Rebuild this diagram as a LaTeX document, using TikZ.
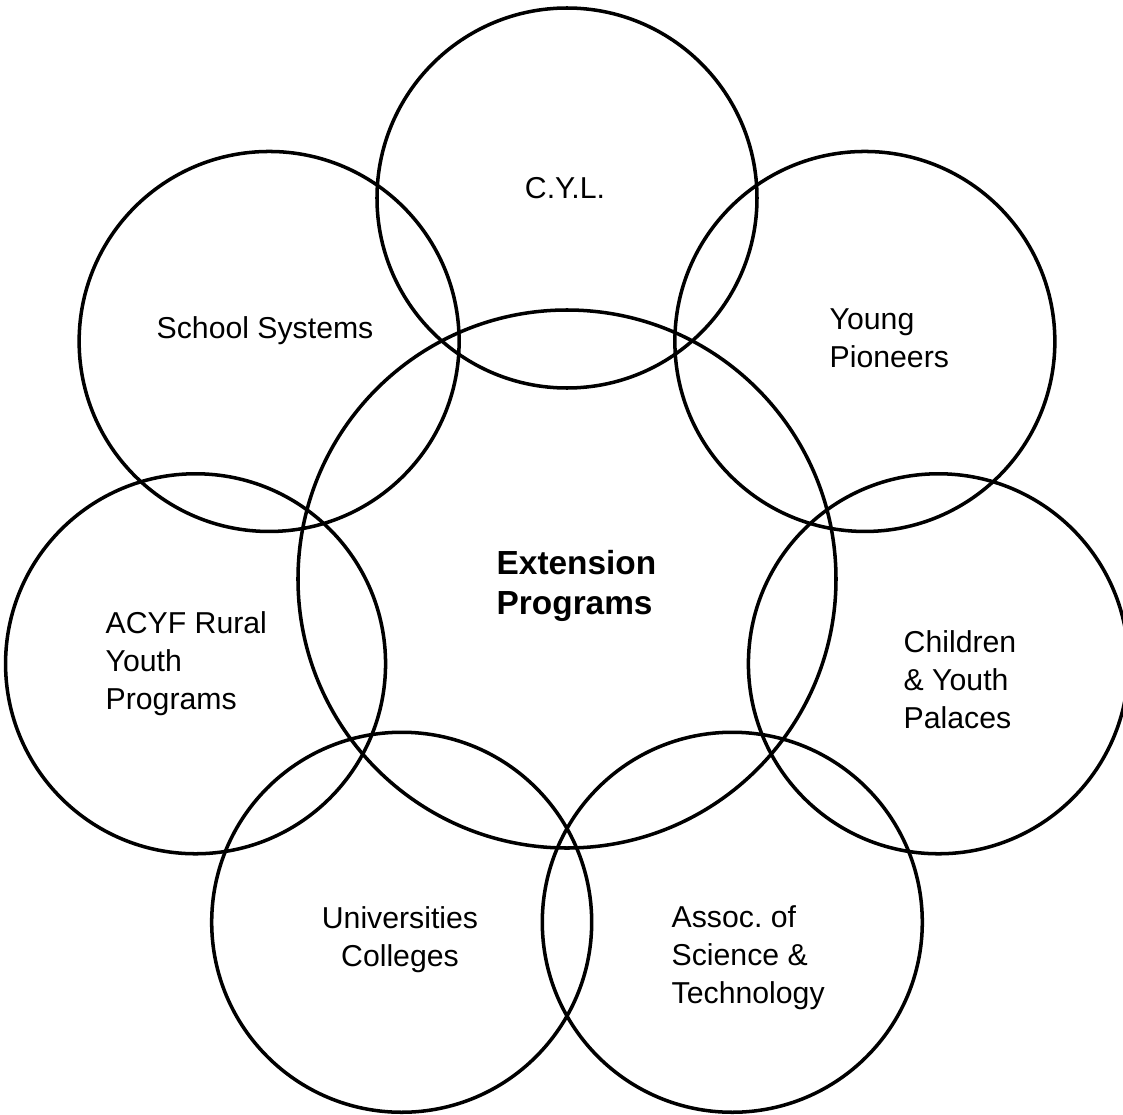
\documentclass[tikz,border=0pt]{standalone}
\usepackage{fontspec}
\setmainfont{Liberation Sans}
\usetikzlibrary{positioning}
\frenchspacing

\begin{document}
\begin{tikzpicture}[ring/.style={draw,circle,line width=1pt,inner sep=0pt,minimum size=3.8cm},
        hub/.style={draw,circle,line width=1pt,inner sep=0pt,minimum size=5.38cm},
        lbl/.style={align=left,anchor=west,inner sep=0pt,font=\fontsize{8.6}{10.8}\selectfont}]
    \useasboundingbox (-5.67,-5.35) rectangle (5.56,5.79);

    % the middle circle and the seven round it
    \node[hub] (ext) at (0,0) {};
    \foreach \name [count=\i from 0] in {cyl,school,acyf,univ,assoc,palace,pioneer}
        \node[ring] (\name) at ({90+\i*360/7}:3.81) {};

    % texts
    \node[lbl,font=\fontsize{9.5}{11.2}\selectfont\bfseries] (exttxt) at (-0.71,-0.07) {Extension\\Programs};
    \node[lbl,anchor=center] (cyltxt)     at (-0.02,3.91)  {C.Y.L.};
    \node[lbl]               (schooltxt)  at (-4.11,2.48)  {School Systems};
    \node[lbl]               (pioneertxt) at (2.62,2.41)   {Young\\Pioneers};
    \node[lbl]               (acyftxt)    at (-4.62,-0.85) {ACYF Rural\\Youth\\Programs};
    \node[lbl]               (palacetxt)  at (3.36,-1.01)  {Children\\\& Youth\\Palaces};
    \node[lbl,align=center,anchor=center] (univtxt) at (-1.67,-3.61) {Universities\\Colleges};
    \node[lbl]               (assoctxt)   at (1.04,-3.79)  {Assoc. of\\Science \&\\Technology};
\end{tikzpicture}
\end{document}
